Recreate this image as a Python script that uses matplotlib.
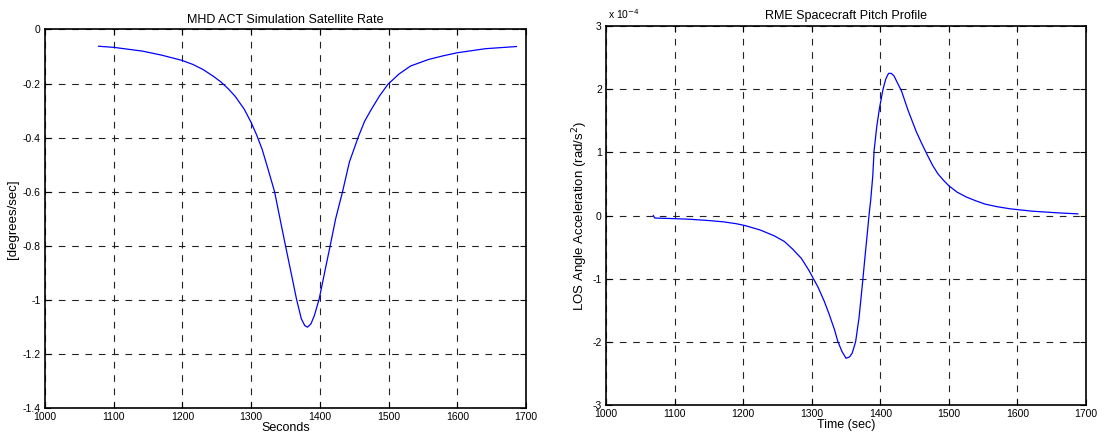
import numpy as np
import matplotlib
matplotlib.use("Agg")
import matplotlib.pyplot as plt
from matplotlib.ticker import FuncFormatter

plt.rcParams["font.family"] = ["Liberation Sans", "DejaVu Sans"]

# satellite rate (left panel), degrees/sec
rate_t = [1078, 1100, 1142, 1170, 1199, 1215, 1230, 1245, 1256, 1267, 1277,
          1290, 1300, 1308, 1316, 1325, 1334, 1342, 1350, 1358, 1366, 1373,
          1378, 1382, 1387, 1392, 1399, 1407, 1415, 1423, 1433, 1443, 1456,
          1465, 1475, 1487, 1499, 1515, 1532, 1558, 1580, 1600, 1641, 1686]
rate_v = [-0.062, -0.066, -0.080, -0.095, -0.114, -0.129, -0.148, -0.173,
          -0.194, -0.22, -0.248, -0.295, -0.344, -0.39, -0.443, -0.52,
          -0.599, -0.70, -0.80, -0.898, -0.997, -1.07, -1.095, -1.101,
          -1.089, -1.058, -0.997, -0.898, -0.80, -0.70, -0.60, -0.49, -0.397,
          -0.34, -0.295, -0.245, -0.203, -0.165, -0.135, -0.111, -0.097,
          -0.086, -0.071, -0.063]

# LOS angle acceleration (right panel), units of 1e-4 rad/s^2
acc_t = [1069, 1071, 1100, 1123, 1150, 1171, 1190, 1203, 1225, 1245, 1260,
         1272, 1285, 1296, 1309, 1318, 1325, 1333, 1338, 1344, 1350, 1355,
         1359, 1364, 1369, 1374, 1378, 1381, 1384, 1386, 1389, 1391, 1395,
         1399, 1404, 1408, 1412, 1416, 1420, 1425, 1431, 1440, 1452, 1460,
         1468, 1476, 1484, 1492, 1500, 1512, 1526, 1540, 1553, 1570, 1590,
         1622, 1659, 1688]
acc_v = [0.0, -0.04, -0.05, -0.06, -0.08, -0.10, -0.13, -0.16, -0.23, -0.32,
         -0.41, -0.53, -0.68, -0.87, -1.13, -1.35, -1.55, -1.80, -1.99,
         -2.15, -2.26, -2.24, -2.18, -2.0, -1.62, -1.08, -0.62, -0.29, 0.05,
         0.24, 0.62, 1.03, 1.42, 1.71, 2.0, 2.16, 2.25, 2.25, 2.21, 2.10,
         1.97, 1.68, 1.34, 1.15, 0.97, 0.80, 0.66, 0.56, 0.47, 0.37, 0.29,
         0.23, 0.18, 0.14, 0.105, 0.068, 0.042, 0.026]

x_ticks = [1000, 1100, 1200, 1300, 1400, 1500, 1600, 1700]
rate_ticks = [0, -0.2, -0.4, -0.6, -0.8, -1, -1.2, -1.4]
acc_ticks = [-3, -2, -1, 0, 1, 2, 3]

fig = plt.figure(figsize=(11.07, 4.38), dpi=100)
fig.patch.set_facecolor("white")

ax1 = fig.add_axes([45 / 1107, 1 - 408 / 438, 481 / 1107, 378.5 / 438])
ax2 = fig.add_axes([606 / 1107, 1 - 405 / 438, 480 / 1107, 379 / 438])

fmt = FuncFormatter(lambda v, p: "%g" % v)


def style(ax):
    ax.grid(True, color="#222222", linestyle=(0, (6, 6)), linewidth=0.8)
    ax.tick_params(direction="in", length=4, width=0.8, top=True, right=True,
                   labelsize=7.5, pad=3)
    for s in ax.spines.values():
        s.set_linewidth(1.2)
    ax.xaxis.set_major_formatter(fmt)
    ax.yaxis.set_major_formatter(fmt)


ax1.plot(rate_t, rate_v, color="blue", lw=0.9)
ax1.set_xlim(1000, 1700)
ax1.set_ylim(-1.4, 0)
ax1.set_xticks(x_ticks)
ax1.set_yticks(rate_ticks)
style(ax1)
ax1.set_title("MHD ACT Simulation Satellite Rate", fontsize=9, pad=5)
ax1.set_xlabel("Seconds", fontsize=9, labelpad=0)
ax1.set_ylabel("[degrees/sec]", fontsize=9.5, labelpad=3)

ax2.plot(acc_t, acc_v, color="blue", lw=0.9)
ax2.set_xlim(1000, 1700)
ax2.set_ylim(-3, 3)
ax2.set_xticks(x_ticks)
ax2.set_yticks(acc_ticks)
style(ax2)
ax2.set_title("RME Spacecraft Pitch Profile", fontsize=9, pad=5)
ax2.set_xlabel("Time (sec)", fontsize=9, labelpad=0)
ax2.set_ylabel("LOS Angle Acceleration (rad/s$^2$)", fontsize=9.5,
               labelpad=2)
ax2.text(0.005, 1.012, "x 10$^{-4}$", transform=ax2.transAxes, fontsize=7.5,
         ha="left", va="bottom")

fig.savefig("out.png", dpi=100, facecolor="white")
